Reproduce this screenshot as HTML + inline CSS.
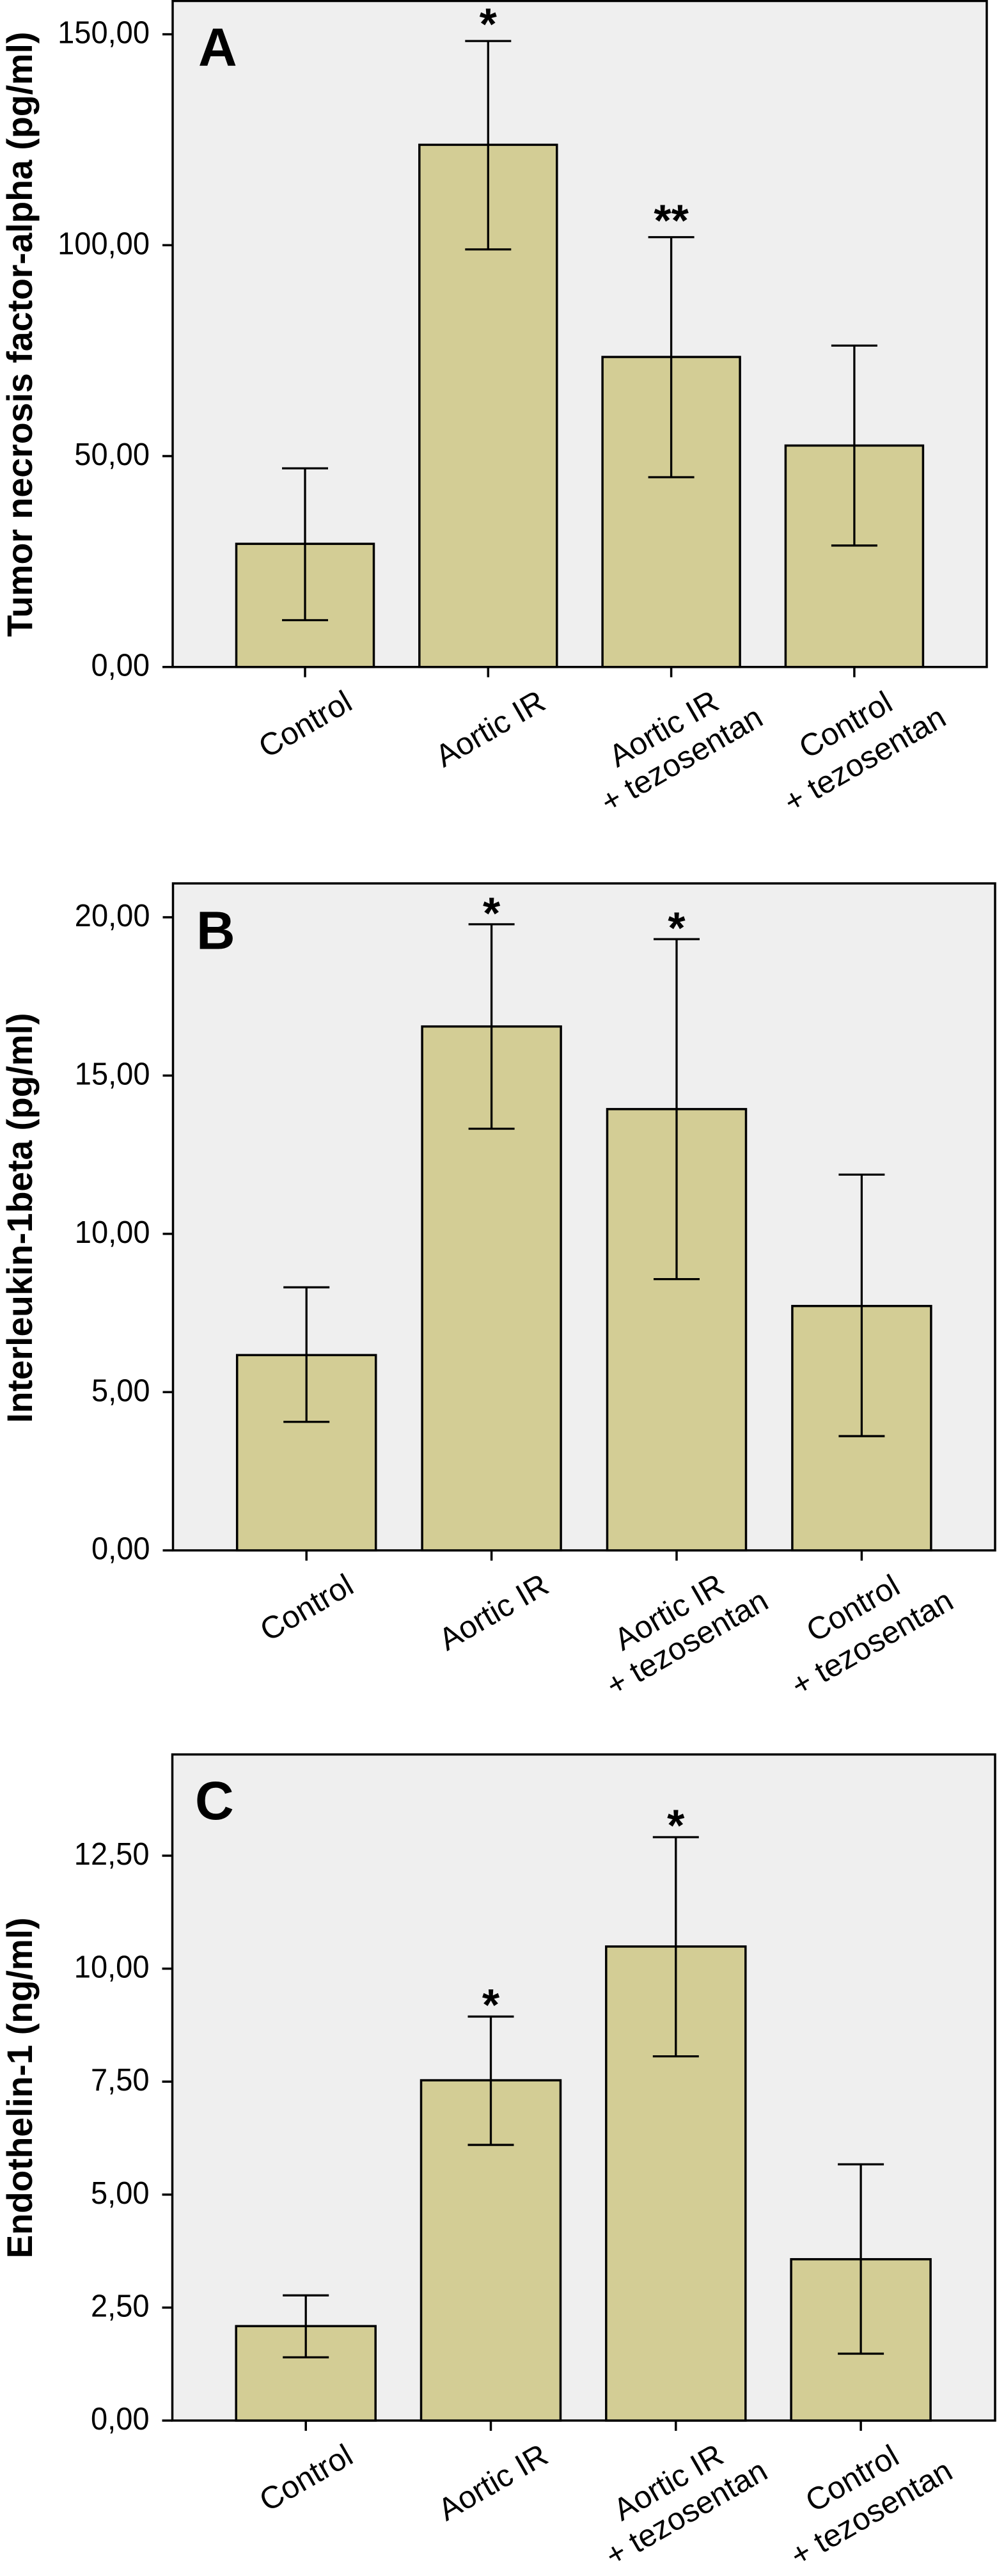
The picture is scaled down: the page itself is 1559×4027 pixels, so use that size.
<!DOCTYPE html>
<html lang="en">
<head>
<meta charset="utf-8">
<title>Cytokine bar charts</title>
<style>
html,body{margin:0;padding:0;background:#fff;}
svg{display:block;font-family:"Liberation Sans",Arial,sans-serif;}
</style>
</head>
<body>
<svg id="figure" xmlns="http://www.w3.org/2000/svg" width="1559" height="4027" viewBox="0 0 1559 4027"></svg>
<script>
const categoryLines = [["Control"], ["Aortic IR"], ["Aortic IR", "+ tezosentan"], ["Control", "+ tezosentan"]];

const tnfMeans = [29.2, 123.8, 73.5, 52.5];
const tnfLower = [11.1, 99.0, 45.0, 28.8];
const tnfUpper = [47.1, 148.4, 101.9, 76.2];
const tnfStars = ["", "*", "**", ""];
const tnfTicks = [0, 50, 100, 150];
const tnfTickLabels = ["0,00", "50,00", "100,00", "150,00"];

const ilMeans = [6.17, 16.55, 13.94, 7.72];
const ilLower = [4.06, 13.32, 8.57, 3.61];
const ilUpper = [8.31, 19.78, 19.31, 11.87];
const ilStars = ["", "*", "*", ""];
const ilTicks = [0, 5, 10, 15, 20];
const ilTickLabels = ["0,00", "5,00", "10,00", "15,00", "20,00"];

const etMeans = [2.09, 7.53, 10.49, 3.57];
const etLower = [1.40, 6.10, 8.06, 1.48];
const etUpper = [2.77, 8.94, 12.91, 5.67];
const etStars = ["", "*", "*", ""];
const etTicks = [0, 2.5, 5, 7.5, 10, 12.5];
const etTickLabels = ["0,00", "2,50", "5,00", "7,50", "10,00", "12,50"];

const NS = "http://www.w3.org/2000/svg";
const figure = document.getElementById("figure");

function make(tag, attrs, parent, text) {
  const el = document.createElementNS(NS, tag);
  for (const k in attrs) el.setAttribute(k, attrs[k]);
  if (text !== undefined) el.textContent = text;
  parent.appendChild(el);
  return el;
}

function drawPanel(cfg) {
  const yScale = v => cfg.base - (v / cfg.yMax) * (cfg.base - cfg.top);
  const xScale = i => cfg.firstX + i * cfg.stepX;

  const group = make("g", {}, figure);
  
  

  const plot = make("rect", {x: cfg.left, y: cfg.top, width: cfg.right - cfg.left, height: cfg.base - cfg.top, fill: "#efefef", stroke: "#000", "stroke-width": 3.5}, group);
  
  

  const letter = make("text", {x: cfg.letterX, y: cfg.letterY, "font-size": 84, "font-weight": "bold", fill: "#000"}, group, cfg.letter);
  
  

  const title = make("text", {transform: "translate(50," + cfg.titleY + ") rotate(-90)", "text-anchor": "middle", "font-size": 56, "font-weight": "bold", textLength: cfg.titleLength, lengthAdjust: "spacingAndGlyphs", fill: "#000"}, group, cfg.title);
  
  

  cfg.ticks.forEach((t, i) => {
    const y = yScale(t);
    const tick = make("line", {x1: cfg.left - 16, x2: cfg.left, y1: y, y2: y, stroke: "#000", "stroke-width": 3.5}, group);
    
    
    const label = make("text", {transform: "translate(" + (cfg.left - 36) + "," + (y + 14) + ") scale(0.96,1)", "text-anchor": "end", "font-size": 49, fill: "#000"}, group, cfg.tickLabels[i]);
    
    
  });

  cfg.means.forEach((m, i) => {
    const cx = xScale(i);
    const bar = make("rect", {x: cx - cfg.barW / 2, y: yScale(m), width: cfg.barW, height: cfg.base - yScale(m), fill: "#d3cd95", stroke: "#000", "stroke-width": 3.5}, group);
    
    

    const stem = make("line", {x1: cx, x2: cx, y1: yScale(cfg.upper[i]), y2: yScale(cfg.lower[i]), stroke: "#000", "stroke-width": 3.3}, group);
    
    

    const capTop = make("line", {x1: cx - 36, x2: cx + 36, y1: yScale(cfg.upper[i]), y2: yScale(cfg.upper[i]), stroke: "#000", "stroke-width": 3.3}, group);
    
    

    const capBottom = make("line", {x1: cx - 36, x2: cx + 36, y1: yScale(cfg.lower[i]), y2: yScale(cfg.lower[i]), stroke: "#000", "stroke-width": 3.3}, group);
    
    

    if (cfg.stars[i]) {
      const star = make("text", {x: cx, y: yScale(cfg.upper[i]) - cfg.starGap + 32.5, "text-anchor": "middle", "font-size": 70, "font-weight": "bold", fill: "#000"}, group, cfg.stars[i]);
      
      
    }

    const xTick = make("line", {x1: cx, x2: cx, y1: cfg.base, y2: cfg.base + 16, stroke: "#000", "stroke-width": 3.5}, group);
    
    

    const lines = categoryLines[i];
    lines.forEach((line, j) => {
      let dx = 0, dy = 89;
      if (lines.length === 1 && i === 1) { dx = 3; dy = 96; }
      if (lines.length === 2 && j === 0) { dx = i === 2 ? -12 : -14; dy = i === 2 ? 96 : 90; }
      if (lines.length === 2 && j === 1) { dx = 16; dy = 144; }
      const cat = make("text", {transform: "translate(" + (cx + dx) + "," + (cfg.base + dy) + ") rotate(-30)", "text-anchor": "middle", dy: "0.35em", "font-size": 49, fill: "#000"}, group, line);
      
      
    });
  });
}

drawPanel({id: "a", letter: "A", title: "Tumor necrosis factor-alpha (pg/ml)", means: tnfMeans, lower: tnfLower, upper: tnfUpper, stars: tnfStars, ticks: tnfTicks, tickLabels: tnfTickLabels,
  left: 270, right: 1543, top: 1.5, base: 1042.7, yMax: 157.9, firstX: 477, stepX: 286.3, barW: 215, letterX: 310, letterY: 103, titleY: 522.6, titleLength: 946, starGap: 35});
drawPanel({id: "b", letter: "B", title: "Interleukin-1beta (pg/ml)", means: ilMeans, lower: ilLower, upper: ilUpper, stars: ilStars, ticks: ilTicks, tickLabels: ilTickLabels,
  left: 270.5, right: 1556, top: 1381, base: 2423.7, yMax: 21.07, firstX: 479.2, stepX: 289.4, barW: 217, letterX: 307, letterY: 1483.6, titleY: 1904, titleLength: 641, starGap: 26});
drawPanel({id: "c", letter: "C", title: "Endothelin-1 (ng/ml)", means: etMeans, lower: etLower, upper: etUpper, stars: etStars, ticks: etTicks, tickLabels: etTickLabels,
  left: 269.5, right: 1556, top: 2742.7, base: 3784, yMax: 14.74, firstX: 478.2, stepX: 289.3, barW: 218, letterX: 305, letterY: 2844, titleY: 3264, titleLength: 533, starGap: 27});
</script>
</body>
</html>
